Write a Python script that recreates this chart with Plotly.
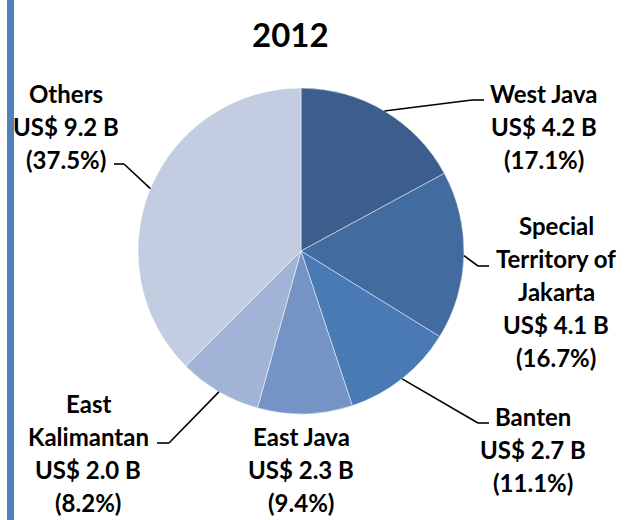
import math
import plotly.graph_objects as go

# ---- data ----
regions = ["West Java", "Special Territory of Jakarta", "Banten", "East Java", "East Kalimantan", "Others"]
values_busd = [4.2, 4.1, 2.7, 2.3, 2.0, 9.2]
shares_pct = [17.1, 16.7, 11.1, 9.4, 8.2, 37.5]
label_lines = [
    ["West Java", "US$ 4.2 B", "(17.1%)"],
    ["Special", "Territory of", "Jakarta", "US$ 4.1 B", "(16.7%)"],
    ["Banten", "US$ 2.7 B", "(11.1%)"],
    ["East Java", "US$ 2.3 B", "(9.4%)"],
    ["East", "Kalimantan", "US$ 2.0 B", "(8.2%)"],
    ["Others", "US$ 9.2 B", "(37.5%)"],
]
colors = ["#3B5E8C", "#426BA0", "#4A7AB6", "#7494C5", "#A2B4D5", "#C3CDE2"]
title_text = "2012"

# ---- layout constants (pixels) ----
W, H = 626, 520
CX, CY, R = 301, 251, 163
# label block: center x, first line y (px from top)
label_pos = [(544, 93), (556, 225), (533, 416), (301, 436), (88, 403), (66, 93)]
LINE_H = 33
# leader line: (elbow x, elbow y, end x) or None
leaders = [(472, 100, 484), (478, 266, 489), (478, 423, 489), None, (169, 443, 157), (124, 164, 114)]


def px(x):
    return x / W


def py(y):
    return 1 - y / H


fig = go.Figure(go.Pie(
    labels=regions,
    values=shares_pct,
    customdata=values_busd,
    sort=False,
    direction="clockwise",
    rotation=0,
    textinfo="none",
    hoverinfo="label+percent",
    marker=dict(colors=colors, line=dict(color="rgba(255,255,255,0.6)", width=0.8)),
    domain=dict(x=[px(CX - R), px(CX + R)], y=[py(CY + R), py(CY - R)]),
    showlegend=False,
))

annotations = []
shapes = []
font = dict(family="Lato, 'Open Sans', sans-serif", size=24, color="#000000", weight="bold")

total = sum(shares_pct)
cum = 0.0
for i, v in enumerate(shares_pct):
    mid = (cum + v / 2) / total * 2 * math.pi
    cum += v
    sx = CX + R * math.sin(mid)
    sy = CY - R * math.cos(mid)
    if leaders[i] is not None:
        ex, ey, endx = leaders[i]
        shapes.append(dict(type="line", xref="paper", yref="paper",
                           x0=px(sx), y0=py(sy), x1=px(ex), y1=py(ey),
                           line=dict(color="#000000", width=1.6)))
        shapes.append(dict(type="line", xref="paper", yref="paper",
                           x0=px(ex), y0=py(ey), x1=px(endx), y1=py(ey),
                           line=dict(color="#000000", width=1.6)))
    lx, ly = label_pos[i]
    for j, line in enumerate(label_lines[i]):
        annotations.append(dict(text=line, x=px(lx), y=py(ly + j * LINE_H),
                                xref="paper", yref="paper", xanchor="center", yanchor="middle",
                                showarrow=False, font=font))

annotations.append(dict(text=title_text, x=px(290), y=py(34), xref="paper", yref="paper",
                        xanchor="center", yanchor="middle", showarrow=False,
                        font=dict(family="Lato, 'Open Sans', sans-serif", size=33, color="#000000", weight="bold")))

# left blue bar
shapes.append(dict(type="rect", xref="paper", yref="paper", x0=px(7), x1=px(14), y0=0, y1=1,
                   fillcolor="#4F81BD", line=dict(width=0), layer="below"))

fig.update_layout(
    width=W, height=H,
    margin=dict(l=0, r=0, t=0, b=0),
    paper_bgcolor="#FFFFFF",
    plot_bgcolor="#FFFFFF",
    annotations=annotations,
    shapes=shapes,
)

fig.write_html("out.html", config={"displayModeBar": False},
               post_script="document.body.style.margin='0';document.body.style.overflow='hidden';")
